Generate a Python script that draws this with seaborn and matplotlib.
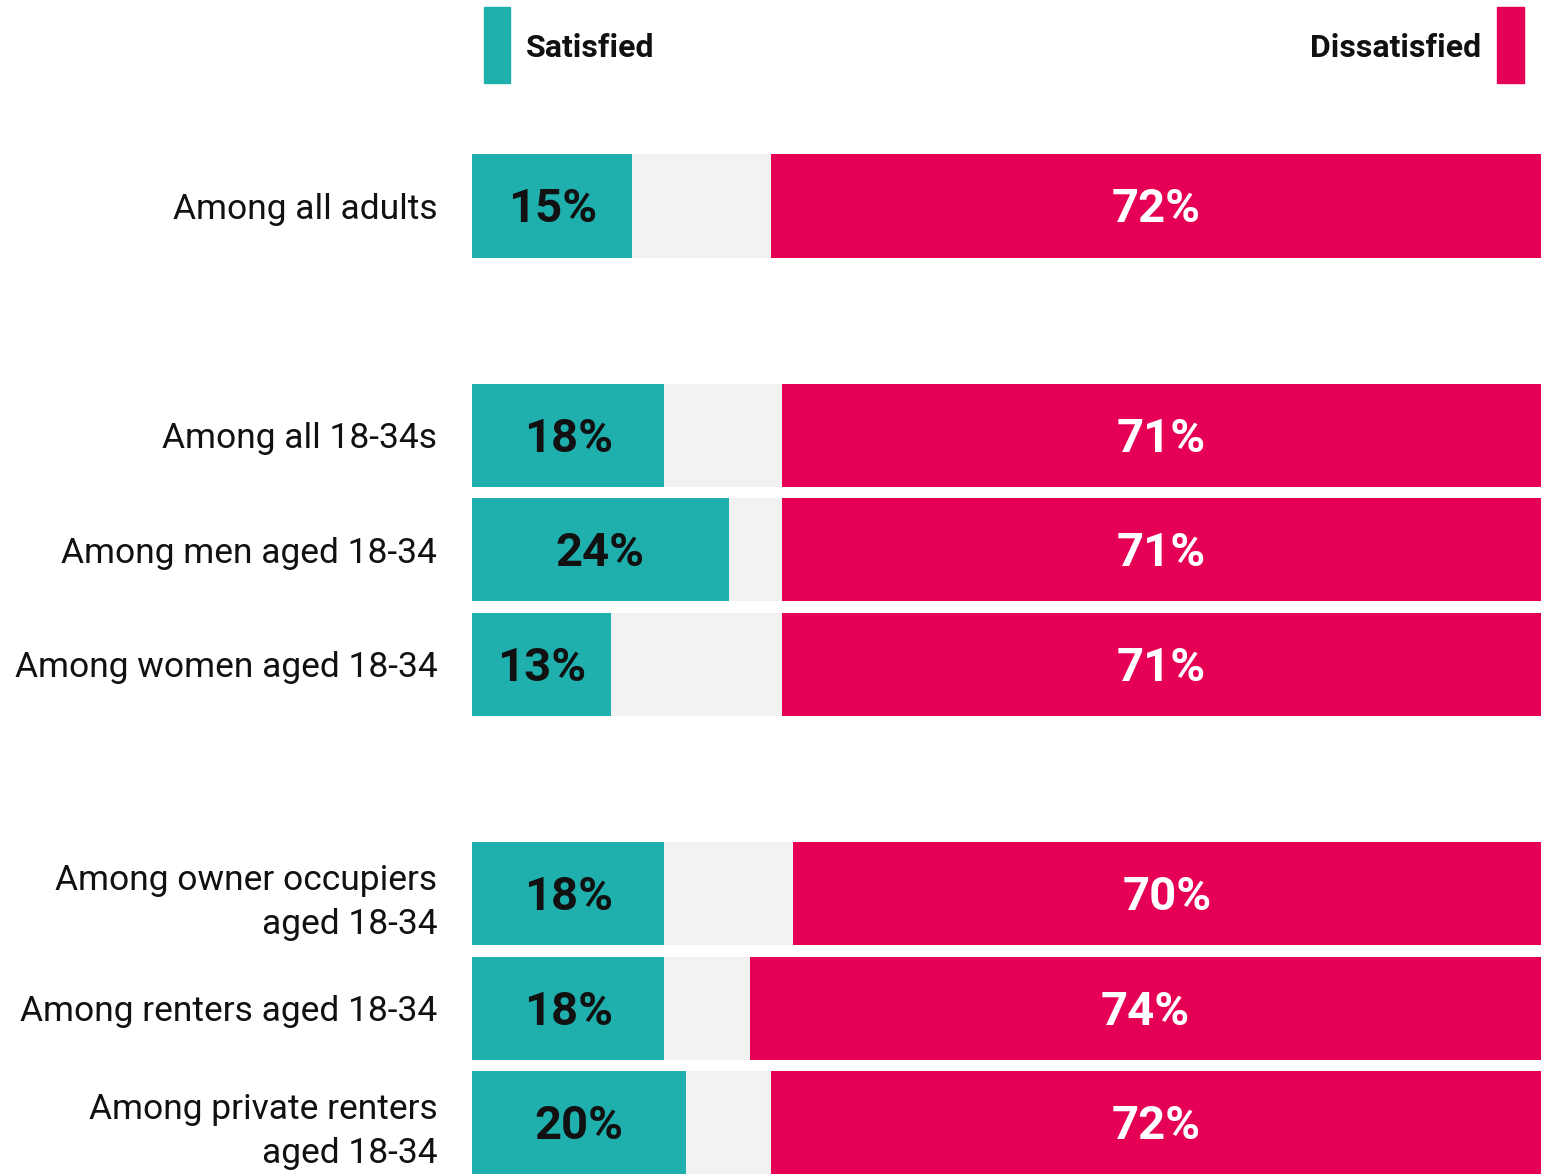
import matplotlib
matplotlib.use("Agg")
import matplotlib.pyplot as plt
import matplotlib.patches as mpatches
import seaborn as sns
import pandas as pd

categories = [
    "Among all adults",
    "Among all 18-34s",
    "Among men aged 18-34",
    "Among women aged 18-34",
    "Among owner occupiers\naged 18-34",
    "Among renters aged 18-34",
    "Among private renters\naged 18-34",
]
satisfied = [15, 18, 24, 13, 18, 18, 20]
dissatisfied = [72, 71, 71, 71, 70, 74, 72]
order = [categories[0], " ", categories[1], categories[2], categories[3], "  ",
         categories[4], categories[5], categories[6]]

TEAL = "#1FB0AE"
RED = "#E50055"
GREY = "#F2F2F2"

sns.set_theme(style="white")
plt.rcParams["font.family"] = ["Roboto", "DejaVu Sans"]

df = pd.DataFrame({"cat": categories, "sat": satisfied, "dis": dissatisfied})
df["full"] = 100
df["notdis"] = 100 - df["dis"]

W, H = 1543, 1174
fig = plt.figure(figsize=(W / 100, H / 100), dpi=100)
ax = fig.add_axes([472 / W, 0, 1069 / W, 1])

common = dict(y="cat", order=order, orient="h", width=0.9, ax=ax,
              linewidth=0, saturation=1)
sns.barplot(data=df, x="full", color=RED, **common)
sns.barplot(data=df, x="notdis", color=GREY, **common)
sns.barplot(data=df, x="sat", color=TEAL, **common)

pitch = (1123 - 206) / 8
ax.set_ylim(8 + (1174 - 1123) / pitch, -206 / pitch)
ax.set_xlim(0, 100)
ax.set_xlabel("")
ax.set_ylabel("")
ax.set_xticks([])
for s in ax.spines.values():
    s.set_visible(False)
ax.tick_params(axis="y", length=0, pad=25)
for lab in ax.get_yticklabels():
    lab.set_fontsize(25.5)
    lab.set_color("#111111")
    lab.set_ha("right")
    lab.set_multialignment("right")
    lab.set_linespacing(1.4)

for i, cat in enumerate(categories):
    y = order.index(cat)
    s = satisfied[i]
    d = dissatisfied[i]
    ax.text(s / 2, y + 0.03, f"{s}%", ha="center", va="center",
            fontsize=34, fontweight="bold", color="#111111")
    ax.text(100 - d / 2, y + 0.03, f"{d}%", ha="center", va="center",
            fontsize=34, fontweight="bold", color="white")

# legend
fig.patches.append(mpatches.Rectangle((484 / W, 1 - 83 / H), 26 / W, 76 / H,
                                      transform=fig.transFigure, color=TEAL))
fig.patches.append(mpatches.Rectangle((1497 / W, 1 - 83 / H), 27 / W, 76 / H,
                                      transform=fig.transFigure, color=RED))
fig.text(526 / W, 1 - 48 / H, "Satisfied", ha="left", va="center",
         fontsize=23, fontweight="bold", color="#111111")
fig.text(1481 / W, 1 - 48 / H, "Dissatisfied", ha="right", va="center",
         fontsize=23, fontweight="bold", color="#111111")

fig.savefig("out.png", dpi=100)
